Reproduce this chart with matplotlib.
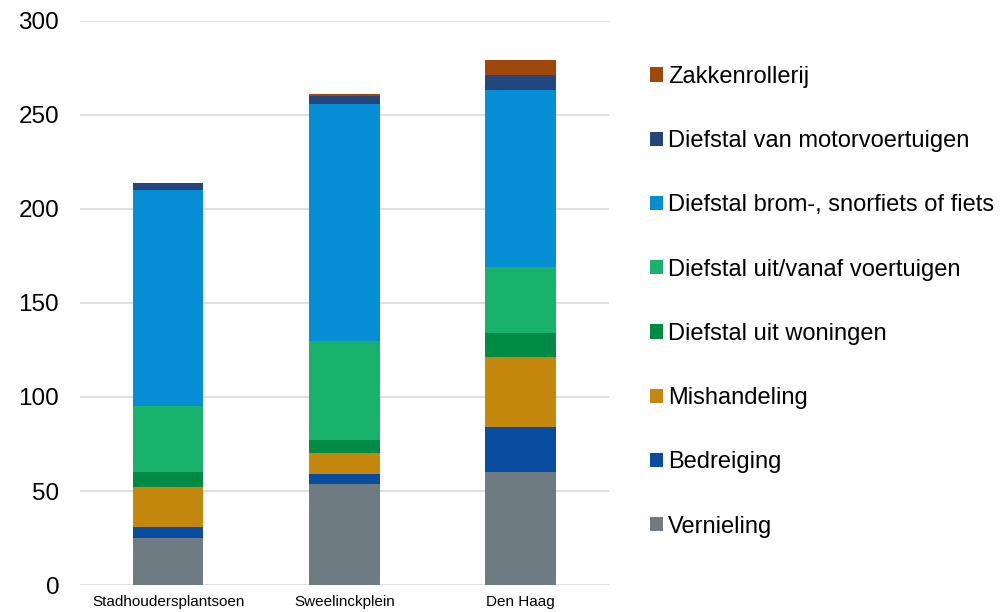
import matplotlib
import numpy as np
from matplotlib import pyplot as plt

matplotlib.use('Agg')
plt.rcParams['font.family'] = ['Liberation Sans', 'DejaVu Sans']

# data
locations = ["Stadhoudersplantsoen", "Sweelinckplein", "Den Haag"]
categories = ["Vernieling", "Bedreiging", "Mishandeling", "Diefstal uit woningen",
              "Diefstal uit/vanaf voertuigen", "Diefstal brom-, snorfiets of fiets",
              "Diefstal van motorvoertuigen", "Zakkenrollerij"]
vernieling = [25, 54, 60]
bedreiging = [6, 5, 24]
mishandeling = [21, 11, 37]
uit_woningen = [8, 7, 13]
uit_voertuigen = [35, 53, 35]
brom_fiets = [115, 126, 94]
motorvoertuigen = [4, 4, 8]
zakkenrollerij = [0, 1, 8]
series = [vernieling, bedreiging, mishandeling, uit_woningen,
          uit_voertuigen, brom_fiets, motorvoertuigen, zakkenrollerij]
colors = ['#6f7b83', '#0a4ca0', '#c5880f', '#008b45',
          '#19b26d', '#058ed3', '#25467c', '#a0470d']

fig = plt.figure(figsize=(10.01, 6.12), dpi=100)
ax = fig.add_axes([0.08, 0.044, 0.528, 0.922])

x = np.arange(len(locations))
bottom = np.zeros(len(locations))
handles = []
for vals, color, name in zip(series, colors, categories):
    b = ax.bar(x, vals, width=0.4, bottom=bottom, color=color, label=name, zorder=3)
    handles.append(b)
    bottom += np.array(vals)

ax.set_ylim(0, 300)
ax.set_xlim(-0.5, 2.5)
ax.set_yticks(np.arange(0, 301, 50))
ax.yaxis.grid(True, color='#d9d9d9', lw=1.2, zorder=0)
for s in ax.spines.values():
    s.set_visible(False)
ax.tick_params(axis='y', length=0, labelsize=17.5, pad=15)
ax.tick_params(axis='x', length=0, labelsize=11, pad=7)
ax.set_xticks(x)
ax.set_xticklabels(locations)

leg = fig.legend(handles[::-1], categories[::-1], loc='upper left',
                 bbox_to_anchor=(0.64, 0.908), frameon=False, fontsize=17,
                 handlelength=0.55, handleheight=0.55, handletextpad=0.22,
                 labelspacing=1.79, borderaxespad=0)

plt.savefig("out.png", dpi=100)
